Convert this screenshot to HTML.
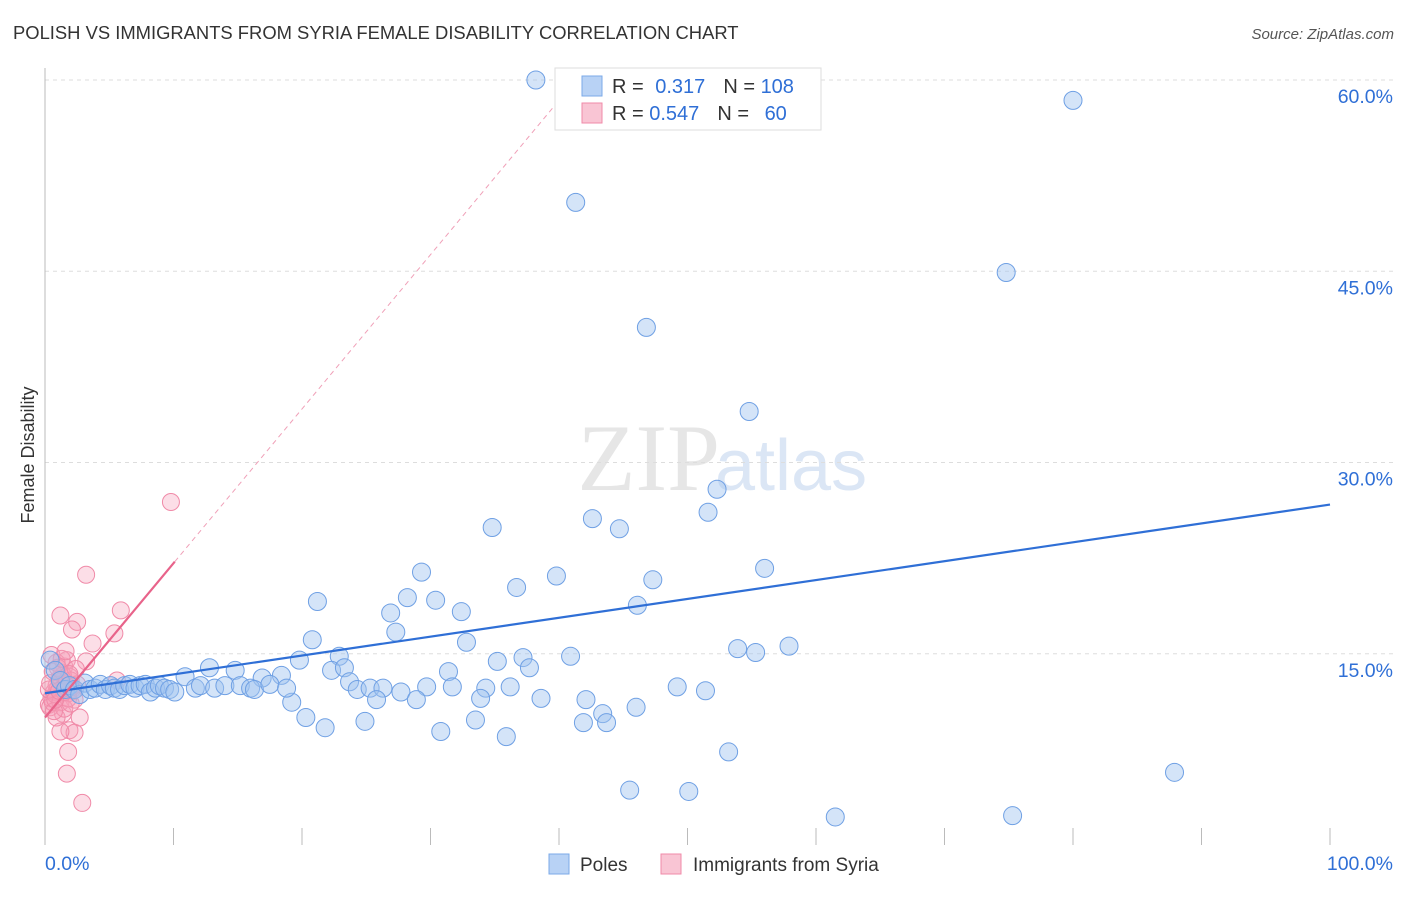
<!DOCTYPE html>
<html><head><meta charset="utf-8"><style>
body{margin:0;background:#fff;font-family:"Liberation Sans",sans-serif;}
</style></head><body>
<svg id="chart" width="1406" height="892" xmlns="http://www.w3.org/2000/svg">
<text x="13" y="39" font-size="18.4" fill="#333">POLISH VS IMMIGRANTS FROM SYRIA FEMALE DISABILITY CORRELATION CHART</text>
<text x="1394" y="39" font-size="15" fill="#555" text-anchor="end" font-style="italic">Source: ZipAtlas.com</text>
<text x="720" y="490" font-size="95" fill="#e6e6e6" text-anchor="end" font-family="Liberation Serif">ZIP</text>
<text x="715" y="490" font-size="72" fill="#dbe6f5">atlas</text>
<text transform="translate(34,455) rotate(-90)" font-size="18" fill="#333" text-anchor="middle">Female Disability</text>
<g id="grid"></g><g id="axes"></g><g id="pinkpts"></g><g id="bluepts"></g><g id="lines"></g>
<g>
<rect x="555" y="68" width="266" height="62" fill="#fff" stroke="#ddd"/>
<rect x="582" y="76" width="20" height="20" fill="#b8d2f5" stroke="#7baae8"/>
<rect x="582" y="103" width="20" height="20" fill="#f9c5d4" stroke="#f08aa8"/>
<text x="612" y="93" font-size="20" fill="#333">R = <tspan fill="#2f6fd6" dx="6">0.317</tspan><tspan dx="18" fill="#333">N = </tspan><tspan fill="#2f6fd6">108</tspan></text>
<text x="612" y="120" font-size="20" fill="#333">R = <tspan fill="#2f6fd6">0.547</tspan><tspan dx="18" fill="#333">N = </tspan><tspan fill="#2f6fd6" dx="10">60</tspan></text>
</g>
<g>
<rect x="549" y="854" width="20" height="20" fill="#b8d2f5" stroke="#7baae8"/>
<text x="580" y="871" font-size="19" fill="#333">Poles</text>
<rect x="661" y="854" width="20" height="20" fill="#f9c5d4" stroke="#f08aa8"/>
<text x="693" y="871" font-size="19" fill="#333">Immigrants from Syria</text>
</g>
</svg>
<script>
const yTicks=[15,30,45,60];
const xTickLabels=["0.0%","100.0%"];
const blueX=[38.2,80.0,41.3,74.8,46.8,54.8,52.3,51.6,42.6,44.7,34.8,56.0,29.3,39.8,47.3,36.7,21.2,28.2,30.4,46.1,26.9,32.4,27.3,20.8,32.8,57.9,53.9,55.3,40.9,22.9,19.8,35.2,37.2,37.7,31.4,22.3,23.3,12.8,14.8,10.9,16.9,18.4,23.7,24.3,25.3,26.3,27.7,29.7,31.7,34.3,36.2,49.2,51.4,28.9,25.8,33.9,38.6,42.1,19.2,43.4,46.0,20.3,24.9,33.5,41.9,43.7,21.8,30.8,35.9,53.2,87.9,45.5,50.1,61.5,75.3,0.4,0.8,1.2,1.6,1.9,2.3,2.7,3.1,3.5,3.9,4.3,4.7,5.1,5.4,5.8,6.2,6.6,7.0,7.4,7.8,8.2,8.6,8.9,9.3,9.7,10.1,11.7,12.1,13.2,14.0,15.2,16.0,16.3,17.5,18.8];
const blueY=[60.0,58.4,50.4,44.9,40.6,34.0,27.9,26.1,25.6,24.8,24.9,21.7,21.4,21.1,20.8,20.2,19.1,19.4,19.2,18.8,18.2,18.3,16.7,16.1,15.9,15.6,15.4,15.1,14.8,14.8,14.5,14.4,14.7,13.9,13.6,13.7,13.9,13.9,13.7,13.2,13.1,13.3,12.8,12.2,12.3,12.3,12.0,12.4,12.4,12.3,12.4,12.4,12.1,11.4,11.4,11.5,11.5,11.4,11.2,10.3,10.8,10.0,9.7,9.8,9.6,9.6,9.2,8.9,8.5,7.3,5.7,4.3,4.2,2.2,2.3,14.5,13.7,12.9,12.2,12.5,12.2,11.8,12.7,12.2,12.3,12.6,12.2,12.5,12.3,12.2,12.5,12.6,12.3,12.5,12.6,12.0,12.3,12.5,12.3,12.2,12.0,12.3,12.5,12.3,12.5,12.5,12.3,12.2,12.6,12.3];
const pinkX=[9.8,3.2,5.9,1.2,2.5,2.1,5.4,3.7,3.2,5.6,1.7,2.9,1.8,1.9,2.3,1.2,2.7,1.4,0.9,0.3,0.5,0.7,0.9,1.1,1.3,1.5,1.7,1.9,2.1,2.3,0.4,0.6,0.8,1.0,1.2,1.4,1.6,1.8,2.0,2.4,0.3,0.6,0.9,1.2,1.5,1.8,2.1,0.5,1.0,1.5,2.0,2.5,0.7,1.3,1.9,0.4,0.8,1.6,2.2,1.1];
const pinkY=[26.9,21.2,18.4,18.0,17.5,16.9,16.6,15.8,14.4,12.9,5.6,3.3,7.3,9.0,8.8,8.9,10.0,10.3,10.0,11.0,11.5,12.0,12.5,13.0,13.5,14.0,14.5,13.2,12.2,11.4,10.8,11.2,11.8,12.3,12.8,13.3,12.6,11.9,12.9,13.8,12.2,13.6,14.3,11.2,10.7,11.5,12.4,14.9,13.9,12.0,11.1,12.6,10.5,14.6,13.4,12.7,11.4,15.2,12.1,12.1];
const blueTrend=[11.9,26.7];
const pinkTrend=[10.0,1.21];
const NS="http://www.w3.org/2000/svg";
const X0=45,X1=1330,YB=845,YT=80;
const sx=v=>X0+(X1-X0)*v/100;
const sy=v=>YB-(YB-YT)*v/60;
function mk(parent,tag,attrs){const e=document.createElementNS(NS,tag);for(const k in attrs)e.setAttribute(k,attrs[k]);document.getElementById(parent).appendChild(e);return e;}
yTicks.forEach(t=>{
 const l=mk('grid','line',{x1:X0,x2:1393,y1:sy(t),y2:sy(t),stroke:'#ddd','stroke-dasharray':'4,4'});
 
 
 const tx=mk('grid','text',{x:1393,y:sy(t)+23,'font-size':19.5,fill:'#2f6fd6','text-anchor':'end'});
 tx.textContent=t.toFixed(1)+'%';
 
 
});
const ax=mk('axes','line',{x1:X0,x2:X0,y1:68,y2:YB,stroke:'#bbb'});


for(let i=0;i<=10;i++){
 const t=mk('axes','line',{x1:sx(i*10),x2:sx(i*10),y1:828,y2:YB,stroke:'#bbb'});
 
 
}
[[0,'start',45],[100,'end',1393]].forEach((d,i)=>{
 const tx=mk('axes','text',{x:d[2],y:870,'font-size':19.5,fill:'#2f6fd6','text-anchor':d[1]});
 tx.textContent=xTickLabels[i];
 
 
});
pinkX.forEach((x,i)=>{
 const c=mk('pinkpts','circle',{cx:sx(x),cy:sy(pinkY[i]),r:8.5,fill:'rgba(245,160,185,0.35)',stroke:'#f08aa8','stroke-width':1});
 
 
});
blueX.forEach((x,i)=>{
 const c=mk('bluepts','circle',{cx:sx(x),cy:sy(blueY[i]),r:9,fill:'rgba(160,196,240,0.45)',stroke:'#6fa0e4','stroke-width':1});
 
 
});
const bl=mk('lines','line',{x1:sx(0),y1:sy(blueTrend[0]),x2:sx(100),y2:sy(blueTrend[1]),stroke:'#2f6fd6','stroke-width':2.2});


const pEnd=10.1, pTop=(60-pinkTrend[0])/pinkTrend[1];
const pl=mk('lines','line',{x1:sx(0),y1:sy(pinkTrend[0]),x2:sx(pEnd),y2:sy(pinkTrend[0]+pinkTrend[1]*pEnd),stroke:'#e8638a','stroke-width':2.2});


const pd=mk('lines','line',{x1:sx(pEnd),y1:sy(pinkTrend[0]+pinkTrend[1]*pEnd),x2:sx(pTop),y2:sy(60),stroke:'#f0a0b8','stroke-width':1,'stroke-dasharray':'5,4'});


</script>
</body></html>
